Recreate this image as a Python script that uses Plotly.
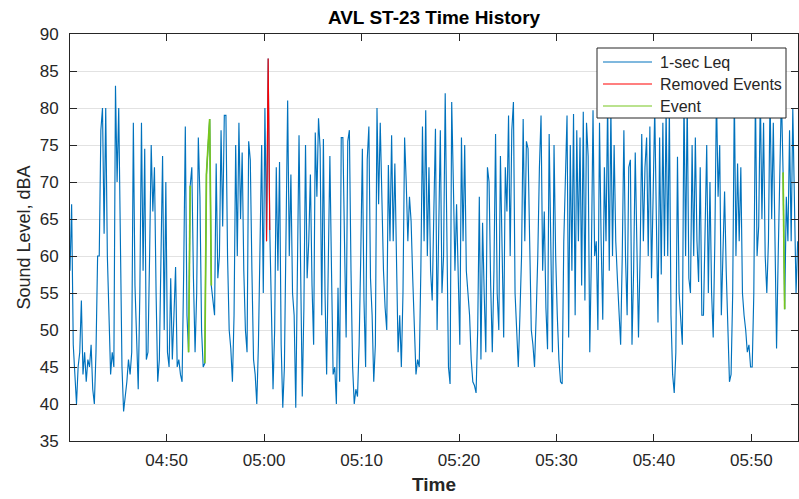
import pandas as pd
import plotly.graph_objects as go

# 10-second samples of the 1-sec Leq record, starting at 04:40:05 (dBA)
START = "2023-01-01 04:40:05"
END = "2023-01-01 05:54:47"
STEP_S = 10

leq_dba = [
    58, 67, 48, 43, 40, 45,      47, 54, 44, 47, 43, 46,
    45, 48, 42, 40, 47, 60,      60, 77, 80, 63, 80, 60,
    50, 44, 47, 45, 83, 70,      80, 58, 45, 39, 41, 43,
    46, 44, 47, 78, 56, 50,      42, 55, 78, 58, 74.5, 46,
    47, 60, 75, 66, 72, 55,      43, 46, 58, 73.5, 50, 70,
    47, 45, 57, 46, 52, 58.5,    45, 46, 44, 43, 58, 77.5,
    52, 47, 69.5, 72, 57, 47,    55, 76, 68, 50, 45, 45.5,
    71, 75, 78.5, 56, 54, 52,    72.5, 57, 60, 77, 64, 79,
    79, 60, 50, 47.5, 43, 52,    75, 60, 78, 65, 74, 58,
    50, 47, 75.5, 73, 58, 46,    44, 40, 48, 60, 75, 55,
    80, 62, 86.7, 63.5, 50, 42,  50, 72, 58, 72.7, 48, 39.5,
    45, 62, 81, 60, 71, 55,      52, 39.5, 58, 76.3, 58, 41,
    53, 75, 57, 62, 71, 56,      48, 76.7, 68, 78.6, 74.5, 52,
    75.8, 55, 44, 60, 73.5, 58,  44, 45, 40, 55.7, 43, 76,
    76, 62, 49, 75.5, 77, 58,    45, 40, 42, 41, 48, 60,
    74.5, 54, 45, 73, 77.5, 57,  52, 43, 48, 80, 67, 78,
    66, 58, 53, 50, 72.3, 62,    76.3, 62, 72.5, 58, 47, 52,
    45, 55, 76, 70, 62, 68,      64.7, 57, 50, 44, 46, 45,
    58, 77.5, 62, 79.7, 60, 72,  58, 54, 66, 77.2, 50, 62,
    77, 55, 60, 82, 60, 45,      42.7, 80.8, 70, 58, 67, 55,
    48, 76, 62, 75, 58, 55,      52, 46, 43, 42.5, 41.5, 50,
    68, 46, 64.5, 55, 47, 72,    70, 56, 47, 58, 76.5, 55,
    50, 73.5, 60, 49, 72, 66,    79, 60, 77, 80.8, 55, 50,
    45, 52, 60, 78.5, 62, 75.5,  74.5, 62, 50, 48, 45, 52,
    60, 72, 79, 58, 66, 53,      47.4, 76.5, 62, 47, 75, 60,
    52, 46, 43, 42.7, 62, 72,    79, 49, 75, 58, 79.2, 52,
    77, 62, 76, 56, 79.5, 54,    78, 73.5, 47, 60, 79.7, 60,
    62, 50, 78, 62, 51.4, 72,    62, 81, 58, 80, 60, 75,
    62, 57, 52, 48, 60, 77,      60, 52, 72, 73, 48, 58,
    74, 60, 49, 60, 76.5, 62,    72, 76, 60, 77.5, 57, 68,
    80, 65, 51, 76, 57.5, 78,    60, 80, 60, 80, 52, 44,
    41.5, 47, 73.4, 55, 52, 48,  82, 60, 81, 57, 55, 75,
    60, 76, 62, 56.5, 72, 52,    52, 62, 75, 55, 70, 55,
    49, 62, 82, 68, 75, 52,      62, 68.7, 58, 50, 43, 44,
    55, 82, 60, 72.5, 62, 72,    55, 52, 50, 47, 48, 45,
    45, 55, 82, 60, 64, 82,      65, 78, 60, 55, 62, 82,
    65, 78, 60, 47.5, 60, 72,    82, 71.3, 52.8, 68, 62, 77,
    62, 80, 65, 55, 62,
]

# time windows (HH:MM:SS) flagged in the record
removed_windows = [("05:00:15", "05:00:35")]
event_windows = [("04:52:15", "04:52:25"), ("04:53:55", "04:54:35"), ("05:53:15", "05:53:25")]

y_ticks = [35, 40, 45, 50, 55, 60, 65, 70, 75, 80, 85, 90]
x_tick_labels = ["04:50", "05:00", "05:10", "05:20", "05:30", "05:40", "05:50"]

series_names = ["1-sec Leq", "Removed Events", "Event"]
series_colors = ["#0072BD", "#FF0000", "#77C61E"]

times = pd.date_range(START, periods=len(leq_dba), freq=f"{STEP_S}s")
series = pd.Series(leq_dba, index=times)


def windowed(windows):
    xs, ys = [], []
    for a, b in windows:
        seg = series.between_time(a, b)
        xs += list(seg.index) + [None]
        ys += list(seg.values) + [None]
    return xs, ys


FONT = "Liberation Sans, Arial, Helvetica, sans-serif"
INK = "#262626"
W, H = 799, 499
ML, MR, MT, MB = 70, 1, 34, 58
PW, PH = W - ML - MR, H - MT - MB


def px(x):
    """Horizontal pixel in the figure -> paper fraction."""
    return (x - ML) / PW


def py(y):
    """Vertical pixel from the top of the figure -> paper fraction."""
    return (H - MB - y) / PH


fig = go.Figure()
fig.add_trace(go.Scatter(x=series.index, y=series.values, mode="lines", name=series_names[0],
                         line=dict(color=series_colors[0], width=1.15), showlegend=False))
rx, ry = windowed(removed_windows)
fig.add_trace(go.Scatter(x=rx, y=ry, mode="lines", name=series_names[1],
                         line=dict(color=series_colors[1], width=1.1), connectgaps=False,
                         showlegend=False))
ex, ey = windowed(event_windows)
fig.add_trace(go.Scatter(x=ex, y=ey, mode="lines", name=series_names[2],
                         line=dict(color=series_colors[2], width=1.7), connectgaps=False,
                         showlegend=False))

# boxed legend in the upper right of the axes
shapes = [dict(type="rect", xref="paper", yref="paper",
               x0=px(597), x1=px(786), y0=py(118), y1=py(48),
               line=dict(color=INK, width=1), fillcolor="white", layer="above")]
annotations = []
for i, (name, color) in enumerate(zip(series_names, series_colors)):
    row_y = py(62 + 22 * i)
    shapes.append(dict(type="line", xref="paper", yref="paper",
                       x0=px(603), x1=px(652), y0=row_y, y1=row_y,
                       line=dict(color=color, width=1.2), layer="above"))
    annotations.append(dict(text=name, xref="paper", yref="paper", x=px(658), y=row_y,
                            xanchor="left", yanchor="middle", showarrow=False,
                            font=dict(size=16, color=INK, family=FONT)))

tick_dates = [pd.Timestamp(f"2023-01-01 {t}") for t in x_tick_labels]

fig.update_layout(
    width=W, height=H,
    margin=dict(l=ML, r=MR, t=MT, b=MB),
    paper_bgcolor="white", plot_bgcolor="white",
    font=dict(family=FONT, color=INK, size=17),
    title=dict(text="<b>AVL ST-23 Time History</b>", x=0.5, xref="paper",
               y=1 - 17 / H, yref="container", yanchor="middle",
               font=dict(size=19, color="black", family=FONT)),
    showlegend=False,
    shapes=shapes,
    annotations=annotations,
    xaxis=dict(type="date", range=[START, END], tickvals=tick_dates, ticktext=x_tick_labels,
               ticks="inside", ticklen=7, tickcolor=INK, tickwidth=1,
               showline=True, linecolor=INK, linewidth=1, mirror="ticks",
               showgrid=False, zeroline=False, ticklabelstandoff=4,
               tickfont=dict(size=17, color=INK),
               title=dict(text="<b>Time</b>", font=dict(size=19, color=INK), standoff=8)),
    yaxis=dict(range=[35, 90], tickvals=y_ticks, ticks="inside", ticklen=7,
               tickcolor=INK, tickwidth=1, showline=True, linecolor=INK, linewidth=1,
               mirror="ticks", showgrid=True, gridcolor="#E2E2E2", gridwidth=1,
               zeroline=False, ticklabelstandoff=7,
               tickfont=dict(size=17, color=INK),
               title=dict(text="Sound Level, dBA", font=dict(size=18, color=INK), standoff=4)),
)

fig.write_html("out.html")
